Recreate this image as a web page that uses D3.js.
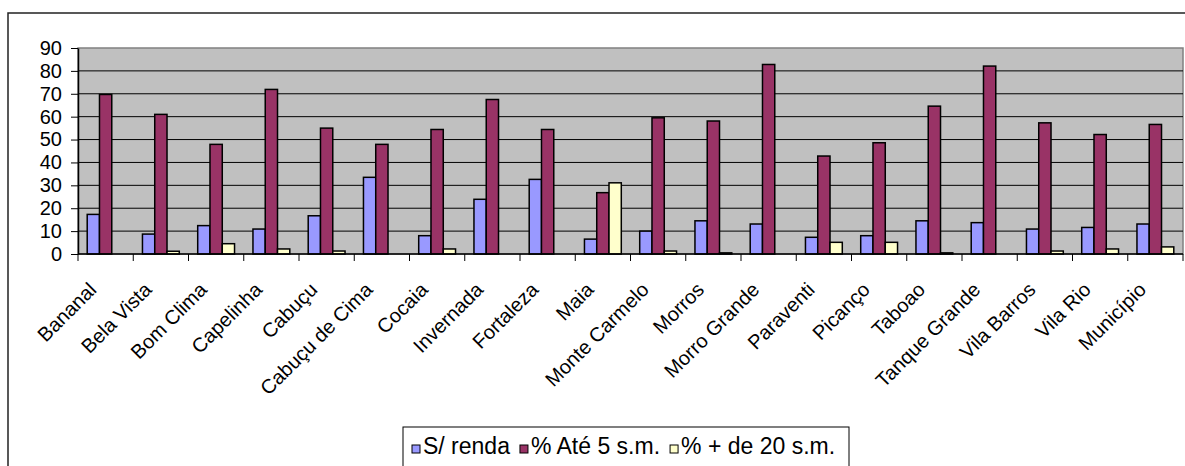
<!DOCTYPE html>
<html>
<head>
<meta charset="utf-8">
<script src="https://cdn.jsdelivr.net/npm/d3@7"></script>
<style>
  body { margin: 0; background: #fff; }
  svg { display: block; font-family: "Liberation Sans", Arial, sans-serif; }
</style>
</head>
<body>
<div id="canvas"></div>
<script>
const categories = ["Bananal", "Bela Vista", "Bom Clima", "Capelinha", "Cabuçu", "Cabuçu de Cima",
    "Cocaia", "Invernada", "Fortaleza", "Maia", "Monte Carmelo", "Morros", "Morro Grande",
    "Paraventi", "Picanço", "Taboao", "Tanque Grande", "Vila Barros", "Vila Rio", "Município"];
const seriesNames = ["S/ renda", "% Até 5 s.m.", "% + de 20 s.m."];
const semRenda = [17.3, 8.7, 12.4, 10.9, 16.7, 33.5, 8.0, 23.9, 32.6, 6.5, 10.0, 14.5, 13.1, 7.3, 8.0, 14.5, 13.7, 10.9, 11.6, 13.1];
const ate5 = [69.7, 61.0, 47.9, 71.9, 55.0, 47.9, 54.4, 67.5, 54.4, 26.8, 59.5, 58.1, 82.8, 42.8, 48.6, 64.6, 82.1, 57.3, 52.2, 56.6];
const mais20 = [0, 1.2, 4.5, 2.2, 1.3, 0, 2.2, 0, 0, 31.1, 1.3, 0.5, 0, 5.1, 5.1, 0.5, 0, 1.3, 2.2, 3.1];
const yTicks = [0, 10, 20, 30, 40, 50, 60, 70, 80, 90];
const colors = ["#9999FF", "#993366", "#FFFFCC"];

const width = 1185;
const height = 466;
const plot = { left: 78, right: 1183, top: 48, bottom: 254 };

const svg = d3.select("#canvas").append("svg")
    .attr("width", width)
    .attr("height", height);

// outer chart frame
svg.append("rect")
    .attr("x", 8).attr("y", 13)
    .attr("width", 1200).attr("height", 500)
    .attr("fill", "#fff")
    .attr("stroke", "#222")
    .attr("stroke-width", 1.5);

const x = d3.scaleBand()
    .domain(categories)
    .range([plot.left, plot.right]);

const xs = d3.scaleBand()
    .domain(seriesNames)
    .range([0, x.bandwidth()])
    .paddingOuter(0.75);

const y = d3.scaleLinear()
    .domain([0, 90])
    .range([plot.bottom, plot.top]);

// plot area
svg.append("rect")
    .attr("x", plot.left).attr("y", plot.top)
    .attr("width", plot.right - plot.left)
    .attr("height", plot.bottom - plot.top)
    .attr("fill", "#C0C0C0")
    .attr("stroke", "#808080")
    .attr("stroke-width", 1.5);

// gridlines
svg.append("g")
    .selectAll("line")
    .data(yTicks.filter(d => d > 0 && d < 90))
    .enter().append("line")
    .attr("x1", plot.left).attr("x2", plot.right)
    .attr("y1", d => y(d)).attr("y2", d => y(d))
    .attr("stroke", "#000")
    .attr("stroke-width", 1);

const data = [semRenda, ate5, mais20];

const groups = svg.append("g")
    .selectAll("g")
    .data(categories)
    .enter().append("g")
    .attr("transform", d => `translate(${x(d)},0)`);

groups.selectAll("rect")
    .data((d, i) => seriesNames.map((s, j) => ({ s: s, v: data[j][i], c: colors[j] })))
    .enter().append("rect")
    .filter(d => d.v > 0)
    .attr("x", d => xs(d.s))
    .attr("y", d => y(d.v))
    .attr("width", xs.bandwidth())
    .attr("height", d => plot.bottom - y(d.v))
    .attr("fill", d => d.c)
    .attr("stroke", "#000")
    .attr("stroke-width", 1.5);

// y axis
const yAxis = svg.append("g")
    .attr("transform", `translate(${plot.left},0)`)
    .call(d3.axisLeft(y).tickValues(yTicks).tickSize(7).tickPadding(9).tickSizeOuter(0));
yAxis.select(".domain").attr("stroke", "#000").attr("stroke-width", 1.5);
yAxis.selectAll(".tick line").attr("stroke", "#000");
yAxis.selectAll("text")
    .attr("font-size", 20)
    .attr("font-family", "Liberation Sans, Arial, sans-serif")
    .attr("fill", "#000");

// x axis line and ticks at category boundaries
svg.append("line")
    .attr("x1", plot.left).attr("x2", plot.right)
    .attr("y1", plot.bottom).attr("y2", plot.bottom)
    .attr("stroke", "#000").attr("stroke-width", 1.5);

const bounds = categories.map(d => x(d)).concat([plot.right]);
svg.append("g")
    .selectAll("line")
    .data(bounds)
    .enter().append("line")
    .attr("x1", d => d).attr("x2", d => d)
    .attr("y1", plot.bottom).attr("y2", plot.bottom + 7)
    .attr("stroke", "#000");

svg.append("g")
    .selectAll("text")
    .data(categories)
    .enter().append("text")
    .attr("transform", d => `translate(${x(d) + x.bandwidth() / 2 - 8},${plot.bottom + 37}) rotate(-45)`)
    .attr("text-anchor", "end")
    .attr("font-size", 20)
    .attr("fill", "#000")
    .text(d => d);

// legend
const legend = svg.append("g");
legend.append("rect")
    .attr("x", 403).attr("y", 427)
    .attr("width", 446).attr("height", 60)
    .attr("fill", "#fff")
    .attr("stroke", "#000")
    .attr("stroke-width", 1);

let lx = 412;
seriesNames.forEach((s, i) => {
    legend.append("rect")
        .attr("x", lx).attr("y", 445)
        .attr("width", 8).attr("height", 8)
        .attr("fill", colors[i])
        .attr("stroke", "#000")
        .attr("stroke-width", 1);
    const t = legend.append("text")
        .attr("x", lx + 11).attr("y", 454)
        .attr("font-size", 23)
        .attr("fill", "#000")
        .text(s);
    lx += 11 + t.node().getComputedTextLength() + 10;
});
</script>
</body>
</html>
